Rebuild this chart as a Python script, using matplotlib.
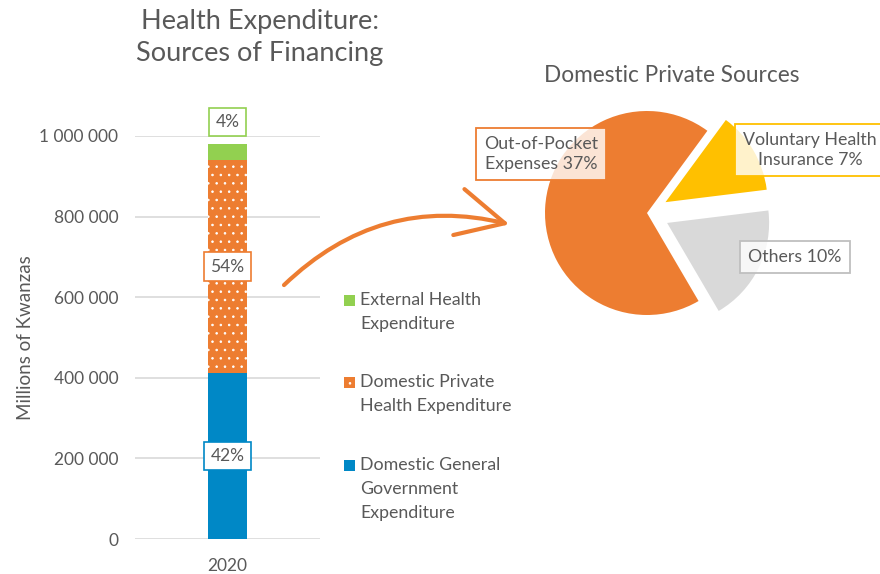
import matplotlib
matplotlib.use('Agg')
import matplotlib.pyplot as plt
from matplotlib.patches import Rectangle, FancyArrowPatch

plt.rcParams['font.family'] = ['Lato', 'DejaVu Sans']
plt.rcParams['hatch.linewidth'] = 0.6

W, H, DPI = 880, 574, 100
TXT = '#595959'

# ---------------- data ----------------
year = ['2020']
series_names = ['Domestic General\nGovernment\nExpenditure',
                'Domestic Private\nHealth Expenditure',
                'External Health\nExpenditure']
series_values = [412000, 528000, 40000]
series_pct = ['42%', '54%', '4%']
series_colors = ['#0088C6', '#ED7D31', '#92D050']
series_hatch = [None, '..', None]

y_ticks = [0, 200000, 400000, 600000, 800000, 1000000]
y_tick_labels = ['0', '200 000', '400 000', '600 000', '800 000', '1 000 000']

pie_labels = ['Voluntary Health\nInsurance 7%', 'Others 10%', 'Out-of-Pocket\nExpenses 37%']
pie_values = [7, 10, 37]
pie_colors = ['#FFC000', '#D9D9D9', '#ED7D31']
pie_edge = ['#FFC000', '#BFBFBF', '#ED7D31']


def fx(x):
    return x / W


def fy(y):
    return 1 - y / H


fig = plt.figure(figsize=(W / DPI, H / DPI), dpi=DPI)

# ---------------- stacked bar ----------------
ax = fig.add_axes([fx(135), fy(539), 185 / W, 403 / H])
bottom = 0
for v, c, h, p in zip(series_values, series_colors, series_hatch, series_pct):
    ax.bar(0, v, bottom=bottom, width=0.216, color=c, hatch=h,
           edgecolor='white' if h else c, linewidth=0, zorder=2)
    bottom += v
ax.set_xlim(-0.5, 0.5)
ax.set_ylim(0, 1000000)
ax.set_yticks(y_ticks)
ax.set_yticklabels(y_tick_labels)
ax.set_xticks([0])
ax.set_xticklabels(year)
ax.tick_params(length=0, labelsize=12.5, colors=TXT, pad=12)
ax.tick_params(axis='x', pad=14)
for s in ax.spines.values():
    s.set_visible(False)
ax.yaxis.grid(True, color='#D9D9D9', lw=1.2, zorder=0)
ax.set_axisbelow(True)
ax.set_ylabel('Millions of Kwanzas', fontsize=13.5, color=TXT, labelpad=4)

# value labels
bottom = 0
for i, (v, c, p) in enumerate(zip(series_values, series_colors, series_pct)):
    if i < len(series_values) - 1:
        ax.text(0, bottom + v / 2, p, ha='center', va='center', fontsize=12.5,
                color=TXT, zorder=5,
                bbox=dict(boxstyle='square,pad=0.35', fc='white', ec=c, lw=1.2))
    else:
        ax.annotate(p, (0, bottom + v), xytext=(0, 16), textcoords='offset points',
                    ha='center', va='center', fontsize=12.5, color=TXT,
                    annotation_clip=False, zorder=5,
                    bbox=dict(boxstyle='square,pad=0.35', fc='white', ec=c, lw=1.2))
    bottom += v

# legend (manual, top item = last series)
leg_y = [300, 382, 465]
for yy, name, c, h in zip(leg_y, series_names[::-1], series_colors[::-1], series_hatch[::-1]):
    fig.patches.append(Rectangle((fx(344), fy(yy + 6)), 11 / W, 11 / H,
                                 transform=fig.transFigure, fc=c,
                                 ec='white' if h else c, hatch=h, lw=0))
    fig.text(fx(360), fy(yy - 8), name, ha='left', va='top', fontsize=12.8,
             color=TXT, linespacing=1.62)

# title
fig.text(fx(260), fy(38), 'Health Expenditure:\nSources of Financing',
         ha='center', va='center', fontsize=19.5, color=TXT, linespacing=1.35)

# ---------------- pie ----------------
cx, cy, R = 647, 213, 102
k = 1.45
pax = fig.add_axes([fx(cx - k * R), fy(cy + k * R), 2 * k * R / W, 2 * k * R / H])
pax.pie(pie_values, colors=pie_colors, startangle=53.7, counterclock=False,
        explode=[0.21, 0.22, 0], radius=1, wedgeprops=dict(linewidth=0))
pax.set_xlim(-k, k)
pax.set_ylim(-k, k)
pax.set_aspect('equal')
pax.axis('off')

fig.text(fx(672), fy(76), 'Domestic Private Sources', ha='center', va='center',
         fontsize=16.3, color=TXT)

label_pos = [(810, 150), (795, 257), (541, 154)]
for (lx, ly), lab, ec in zip(label_pos, pie_labels, pie_edge):
    fig.text(fx(lx), fy(ly), lab, ha='center', va='center', fontsize=12.8,
             color=TXT, linespacing=1.3, zorder=6,
             bbox=dict(boxstyle='square,pad=0.45', fc=(1, 1, 1, 0.8), ec=ec, lw=1.3))

# ---------------- arrow ----------------
arrow = FancyArrowPatch((fx(282), fy(287)), (fx(512), fy(225)),
                        transform=fig.transFigure,
                        connectionstyle='arc3,rad=-0.28',
                        arrowstyle='->,head_length=3.4,head_width=1.7',
                        color='#ED7D31', lw=3, capstyle='round',
                        joinstyle='round', mutation_scale=10)
fig.patches.append(arrow)

fig.savefig('out.png', dpi=DPI)
